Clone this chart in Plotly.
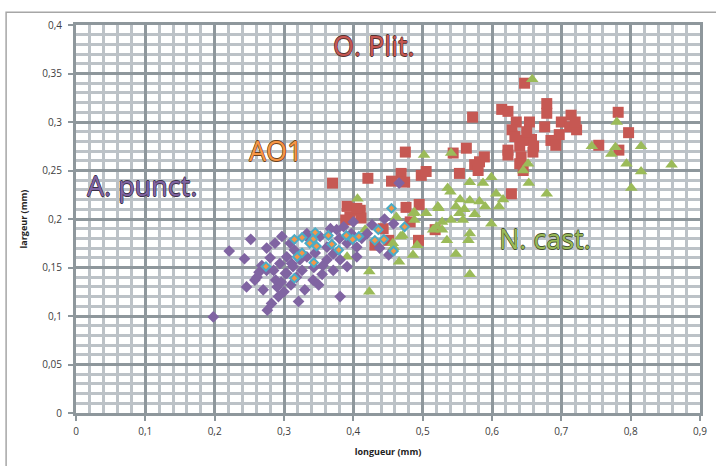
import plotly.graph_objects as go

# ---- data (longueur, largeur in mm) ----
oplit_x = [0.647,0.679,0.679,0.614,0.623,0.572,0.635,0.654,0.676,0.629,0.700,0.714,0.712,0.722,0.782,0.797,
           0.697,0.685,0.692,0.754,0.783,0.645,0.657,0.640,0.659,0.623,0.623,0.642,0.640,0.563,0.544,0.589,
           0.582,0.575,0.580,0.553,0.475,0.421,0.455,0.469,0.474,0.498,0.505,0.628,0.495,0.476,0.410,0.411,
           0.443,0.370,0.391,0.395,0.389,0.405,0.451,0.431,0.494,0.518,0.482,0.720,0.650,0.660,0.633,0.645]
oplit_y = [0.340,0.319,0.309,0.313,0.311,0.305,0.300,0.300,0.295,0.292,0.300,0.307,0.295,0.292,0.310,0.289,
           0.287,0.281,0.276,0.276,0.271,0.281,0.282,0.275,0.269,0.271,0.266,0.264,0.257,0.273,0.268,0.264,
           0.259,0.256,0.250,0.247,0.269,0.242,0.239,0.247,0.238,0.245,0.249,0.226,0.215,0.212,0.209,0.201,
           0.190,0.237,0.213,0.202,0.199,0.211,0.178,0.173,0.178,0.189,0.197,0.300,0.290,0.275,0.285,0.250]

ncast_x = [0.658,0.780,0.744,0.778,0.815,0.772,0.794,0.859,0.815,0.801,0.652,0.645,0.653,0.679,0.502,0.541,
           0.568,0.587,0.599,0.536,0.540,0.606,0.616,0.610,0.554,0.568,0.582,0.548,0.522,0.505,0.488,0.488,
           0.462,0.553,0.558,0.541,0.599,0.520,0.515,0.568,0.406,0.528,0.528,0.566,0.535,0.548,0.568,0.423,
           0.423,0.466,0.486,0.492,0.471,0.457,0.468,0.487,0.523,0.458,0.417,0.391,0.560,0.575,0.590]
ncast_y = [0.344,0.300,0.275,0.274,0.275,0.267,0.257,0.256,0.249,0.232,0.257,0.250,0.237,0.226,0.266,0.268,
           0.238,0.237,0.243,0.232,0.228,0.226,0.220,0.213,0.220,0.219,0.218,0.213,0.213,0.206,0.207,0.199,
           0.202,0.206,0.199,0.199,0.195,0.192,0.189,0.185,0.221,0.197,0.189,0.178,0.178,0.164,0.143,0.146,
           0.125,0.156,0.163,0.173,0.183,0.175,0.182,0.206,0.211,0.171,0.189,0.161,0.210,0.205,0.213]

apunct_x = [0.198,0.221,0.243,0.252,0.246,0.258,0.261,0.270,0.276,0.292,0.321,0.381,0.297,0.350,0.355,0.275,
            0.287,0.309,0.304,0.294,0.285,0.304,0.313,0.323,0.318,0.333,0.333,0.352,0.362,0.362,0.371,0.381,
            0.376,0.386,0.391,0.391,0.405,0.405,0.400,0.427,0.458,0.451,0.466,0.342,0.338,0.371,0.275,0.302,
            0.290,0.330,0.311,0.280,0.268,0.288,0.300,0.296,0.315,0.345,0.356,0.420,0.397,0.380,0.367,0.264,
            0.282,0.310,0.326,0.343,0.412,0.438,0.445]
apunct_y = [0.099,0.167,0.159,0.179,0.130,0.137,0.140,0.127,0.106,0.120,0.115,0.120,0.182,0.132,0.143,0.170,
            0.175,0.175,0.161,0.154,0.147,0.144,0.151,0.158,0.140,0.161,0.185,0.182,0.171,0.158,0.164,0.158,
            0.189,0.192,0.175,0.151,0.161,0.171,0.197,0.194,0.195,0.163,0.237,0.137,0.178,0.147,0.147,0.144,
            0.130,0.127,0.154,0.160,0.152,0.137,0.125,0.135,0.168,0.165,0.152,0.185,0.185,0.180,0.190,0.145,
            0.113,0.132,0.147,0.150,0.180,0.170,0.200]

ao1_x = [0.274,0.315,0.326,0.345,0.342,0.337,0.347,0.364,0.369,0.379,0.319,0.326,0.343,0.315,0.390,0.399,
         0.408,0.455,0.474,0.436,0.431,0.444,0.458]
ao1_y = [0.151,0.179,0.181,0.186,0.179,0.175,0.172,0.183,0.174,0.168,0.161,0.165,0.155,0.139,0.183,0.179,
         0.182,0.211,0.192,0.189,0.178,0.179,0.167]

x_ticks = [0, 0.1, 0.2, 0.3, 0.4, 0.5, 0.6, 0.7, 0.8, 0.9]
x_labels = ["0", "0,1", "0,2", "0,3", "0,4", "0,5", "0,6", "0,7", "0,8", "0,9"]
y_ticks = [0, 0.05, 0.1, 0.15, 0.2, 0.25, 0.3, 0.35, 0.4]
y_labels = ["0", "0,05", "0,1", "0,15", "0,2", "0,25", "0,3", "0,35", "0,4"]

labels = ["O. Plit.", "AO1", "A. punct.", "N. cast."]
label_x = [0.430, 0.289, 0.095, 0.677]
label_y = [0.379, 0.271, 0.235, 0.180]

# ---- style ----
RED, GREEN, PURPLE, ORANGE, BLUE = "#C65853", "#9BBB59", "#8064A2", "#F79646", "#4BACC6"
MAJOR, MINOR = "#8E979C", "#BCC2C7"

fig = go.Figure()
fig.add_trace(go.Scatter(x=oplit_x, y=oplit_y, mode="markers", name="O. Plit.",
                         marker=dict(symbol="square", size=11, color=RED)))
fig.add_trace(go.Scatter(x=ncast_x, y=ncast_y, mode="markers", name="N. cast.",
                         marker=dict(symbol="triangle-up", size=11, color=GREEN)))
fig.add_trace(go.Scatter(x=apunct_x, y=apunct_y, mode="markers", name="A. punct.",
                         marker=dict(symbol="diamond", size=9, color=PURPLE)))
fig.add_trace(go.Scatter(x=ao1_x, y=ao1_y, mode="markers", name="AO1",
                         marker=dict(symbol="diamond", size=6.5, color=ORANGE,
                                     line=dict(color=BLUE, width=2))))

fill_cols = [RED, ORANGE, PURPLE, GREEN]
edge_cols = ["#55302e", "#6b4220", "#3a3048", "#465330"]
for t, xx, yy, fc, ec in zip(labels, label_x, label_y, fill_cols, edge_cols):
    fig.add_annotation(x=xx, y=yy, xref="x", yref="y", text=t, showarrow=False,
                       font=dict(family="Open Sans", size=27, color=fc,
                                 shadow=f"0.6px 0 0 {ec}, -0.6px 0 0 {ec}, 0 0.6px 0 {ec}, 0 -0.6px 0 {ec}"))

axis_common = dict(showgrid=True, gridcolor=MAJOR, gridwidth=3, zeroline=False,
                   showline=True, linecolor=MAJOR, linewidth=3, mirror=True,
                   ticks="outside", ticklen=5, tickwidth=2, tickcolor=MAJOR, automargin=False,
                   tickfont=dict(family="Open Sans", size=10, color="#404040"))

fig.update_layout(
    width=716, height=466,
    margin=dict(l=76, r=16, t=25, b=53, autoexpand=False),
    paper_bgcolor="white", plot_bgcolor="white",
    showlegend=False,
    xaxis=dict(range=[0, 0.9], tickvals=x_ticks, ticktext=x_labels,
               minor=dict(dtick=0.02, showgrid=True, gridcolor=MINOR, gridwidth=3),
               title=dict(text="<b>longueur (mm)</b>", font=dict(family="Open Sans", size=9, color="#222"),
                          standoff=12),
               ticklabelstandoff=2,
               **axis_common),
    yaxis=dict(range=[0, 0.4], tickvals=y_ticks, ticktext=y_labels,
               minor=dict(dtick=0.01, showgrid=True, gridcolor=MINOR, gridwidth=3),
               title=dict(text="<b>largeur (mm)</b>", font=dict(family="Open Sans", size=9, color="#222"),
                          standoff=14),
               ticklabelstandoff=4,
               **axis_common),
)
# outer chart frame
fig.add_shape(type="rect", xref="paper", yref="paper", x0=-0.112, x1=1.04, y0=-0.16, y1=1.033,
              line=dict(color="#A6A6A6", width=1.5), layer="below")

fig.write_html("out.html", config={"displayModeBar": False},
               post_script="document.body.style.margin='0';document.body.style.overflow='hidden';")
